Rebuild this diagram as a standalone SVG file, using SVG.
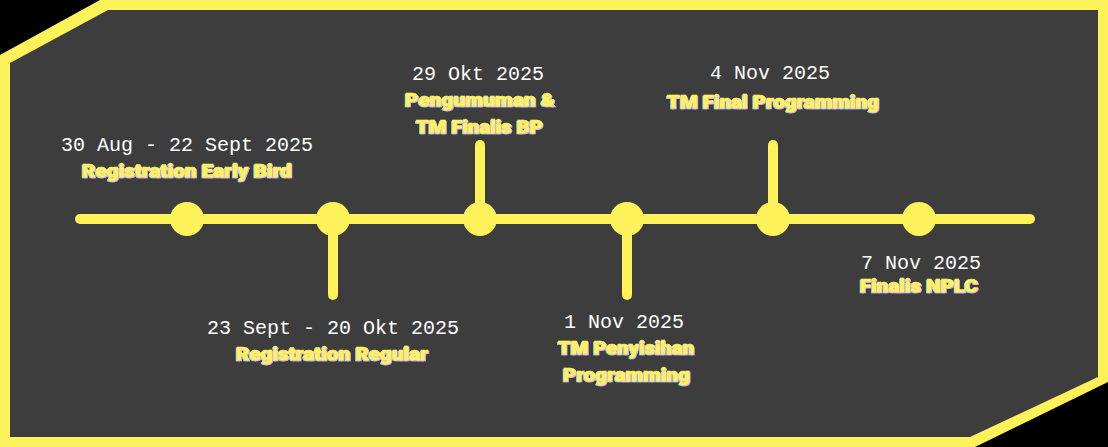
<svg xmlns="http://www.w3.org/2000/svg" width="1108" height="447" viewBox="0 0 1108 447">
  <defs>
    <style>
      .date { font-family: "Liberation Mono", "DejaVu Sans Mono", monospace; font-size: 20px; fill: #ffffff; text-anchor: middle; }
      .title { font-family: "Roboto", "Liberation Sans", sans-serif; font-weight: 900; font-size: 19px; text-anchor: middle; fill: #fdf25a; stroke: #fdf25a; stroke-width: 0.6; filter: url(#sh); }
      .line { stroke: #fdf25a; stroke-width: 10; stroke-linecap: round; fill: none; }
      .dot { fill: #fdf25a; }
    </style>
    <filter id="sh" x="-10%" y="-30%" width="120%" height="170%">
      <feOffset in="SourceAlpha" dx="-1" dy="0.6" result="o1"/>
      <feFlood flood-color="#8fe3d6" result="f1"/>
      <feComposite in="f1" in2="o1" operator="in" result="c"/>
      <feOffset in="SourceAlpha" dx="1" dy="1.4" result="o2"/>
      <feFlood flood-color="#e3a5e6" result="f2"/>
      <feComposite in="f2" in2="o2" operator="in" result="p"/>
      <feMerge>
        <feMergeNode in="c"/>
        <feMergeNode in="p"/>
        <feMergeNode in="SourceGraphic"/>
      </feMerge>
    </filter>
  </defs>
  <rect x="0" y="0" width="1108" height="447" fill="#000000"/>
  <polygon points="100,0 1108,0 1108,382 975,447 0,447 0,55" fill="#fdf25a"/>
  <polygon points="108,10 1098,10 1098,377 970,437 10,437 10,63" fill="#3d3d3d"/>

  <g id="connectors">
    <line class="line" x1="80" y1="219" x2="1030" y2="219"/>
    <line class="line" x1="333" y1="219" x2="333" y2="295"/>
    <line class="line" x1="480" y1="219" x2="480" y2="145"/>
    <line class="line" x1="627" y1="219" x2="627" y2="295"/>
    <line class="line" x1="773" y1="219" x2="773" y2="145"/>
  </g>

  <g id="n1">
    <circle class="dot" cx="187" cy="219" r="17"/>
    <text class="date" x="187" y="151">30 Aug - 22 Sept 2025</text>
    <text class="title" x="187" y="177" textLength="210" lengthAdjust="spacingAndGlyphs">Registration Early Bird</text>
  </g>

  <g id="n2">
    <circle class="dot" cx="333" cy="219" r="17"/>
    <text class="date" x="333" y="334">23 Sept - 20 Okt 2025</text>
    <text class="title" x="332" y="360" textLength="192" lengthAdjust="spacingAndGlyphs">Registration Regular</text>
  </g>

  <g id="n3">
    <circle class="dot" cx="480" cy="219" r="17"/>
    <text class="date" x="478" y="80">29 Okt 2025</text>
    <text class="title" x="480" y="106" textLength="150" lengthAdjust="spacingAndGlyphs">Pengumuman &amp;</text>
    <text class="title" x="479.5" y="133" textLength="127" lengthAdjust="spacingAndGlyphs">TM Finalis BP</text>
  </g>

  <g id="n4">
    <circle class="dot" cx="627" cy="219" r="17"/>
    <text class="date" x="624" y="328">1 Nov 2025</text>
    <text class="title" x="626" y="354" textLength="136" lengthAdjust="spacingAndGlyphs">TM Penyisihan</text>
    <text class="title" x="626.5" y="381" textLength="127" lengthAdjust="spacingAndGlyphs">Programming</text>
  </g>

  <g id="n5">
    <circle class="dot" cx="773" cy="219" r="17"/>
    <text class="date" x="770" y="79">4 Nov 2025</text>
    <text class="title" x="773" y="108" textLength="212" lengthAdjust="spacingAndGlyphs">TM Final Programming</text>
  </g>

  <g id="n6">
    <circle class="dot" cx="919" cy="219" r="17"/>
    <text class="date" x="921" y="269">7 Nov 2025</text>
    <text class="title" x="919" y="292" font-size="18" textLength="118" lengthAdjust="spacingAndGlyphs">Finalis NPLC</text>
  </g>
</svg>
